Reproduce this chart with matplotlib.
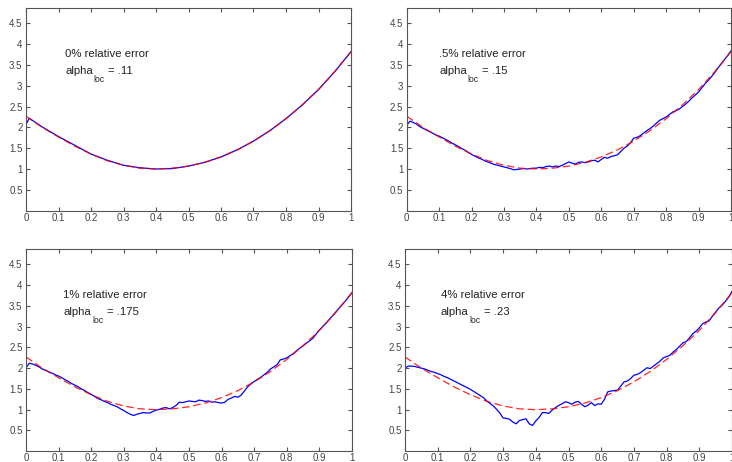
import matplotlib
matplotlib.use("Agg")
import matplotlib.pyplot as plt

plt.rcParams['font.family'] = ['Liberation Sans', 'DejaVu Sans']

# true function (red dashed), sampled every 0.05
x_true = [0.00, 0.05, 0.10, 0.15, 0.20, 0.25, 0.30, 0.35, 0.40, 0.45, 0.50,
          0.55, 0.60, 0.65, 0.70, 0.75, 0.80, 0.85, 0.90, 0.95, 1.00]
y_true = [2.27, 2.00, 1.77, 1.55, 1.36, 1.20, 1.09, 1.02, 1.00, 1.02, 1.07,
          1.16, 1.29, 1.46, 1.67, 1.92, 2.21, 2.54, 2.91, 3.34, 3.82]

# recovered curves (blue)
x_rec0 = [0.00, 0.01, 0.05, 0.10, 0.15, 0.20, 0.25, 0.30, 0.35, 0.40, 0.45,
          0.50, 0.55, 0.60, 0.65, 0.70, 0.75, 0.80, 0.85, 0.90, 0.95, 1.00]
y_rec0 = [2.07, 2.22, 2.01, 1.78, 1.57, 1.36, 1.21, 1.09, 1.03, 1.00, 1.01,
          1.07, 1.16, 1.29, 1.46, 1.67, 1.92, 2.21, 2.54, 2.91, 3.34, 3.82]

x_rec = [i / 100 for i in range(101)]

y_rec05 = [2.05, 2.15, 2.12, 2.08, 2.02, 1.98, 1.94, 1.90, 1.86, 1.82,
           1.79, 1.75, 1.71, 1.67, 1.62, 1.58, 1.54, 1.49, 1.45, 1.40,
           1.35, 1.31, 1.27, 1.24, 1.20, 1.17, 1.14, 1.11, 1.09, 1.07,
           1.05, 1.03, 1.01, 0.98, 0.99, 1.00, 1.01, 1.00, 1.01, 1.02,
           1.02, 1.04, 1.03, 1.06, 1.07, 1.05, 1.07, 1.06, 1.09, 1.13,
           1.17, 1.14, 1.12, 1.16, 1.17, 1.15, 1.17, 1.20, 1.21, 1.17,
           1.23, 1.28, 1.26, 1.30, 1.32, 1.34, 1.42, 1.50, 1.55, 1.63,
           1.74, 1.76, 1.80, 1.86, 1.92, 1.97, 2.03, 2.10, 2.17, 2.21,
           2.25, 2.31, 2.37, 2.40, 2.44, 2.50, 2.56, 2.63, 2.71, 2.78,
           2.85, 2.95, 3.05, 3.13, 3.22, 3.32, 3.43, 3.53, 3.63, 3.73,
           3.84]

y_rec1 = [2.01, 2.12, 2.10, 2.07, 2.03, 1.98, 1.95, 1.91, 1.88, 1.84,
          1.81, 1.77, 1.72, 1.68, 1.63, 1.59, 1.55, 1.50, 1.46, 1.41,
          1.37, 1.32, 1.27, 1.24, 1.20, 1.17, 1.13, 1.10, 1.07, 1.02,
          0.98, 0.93, 0.89, 0.86, 0.89, 0.91, 0.93, 0.92, 0.92, 0.96,
          0.99, 1.01, 1.04, 1.05, 1.02, 1.05, 1.10, 1.18, 1.17, 1.19,
          1.21, 1.20, 1.19, 1.23, 1.22, 1.20, 1.21, 1.18, 1.19, 1.17,
          1.16, 1.18, 1.25, 1.28, 1.32, 1.30, 1.35, 1.45, 1.55, 1.62,
          1.68, 1.73, 1.78, 1.84, 1.90, 1.98, 2.03, 2.08, 2.20, 2.22,
          2.25, 2.30, 2.35, 2.42, 2.48, 2.54, 2.60, 2.66, 2.72, 2.82,
          2.92, 3.00, 3.08, 3.17, 3.26, 3.35, 3.44, 3.53, 3.62, 3.72,
          3.82]

y_rec4 = [2.00, 2.05, 2.05, 2.04, 2.02, 2.00, 1.98, 1.95, 1.92, 1.90,
          1.87, 1.84, 1.80, 1.77, 1.73, 1.69, 1.65, 1.61, 1.57, 1.53,
          1.49, 1.44, 1.39, 1.34, 1.29, 1.21, 1.15, 1.09, 1.01, 0.92,
          0.80, 0.79, 0.77, 0.70, 0.66, 0.74, 0.76, 0.78, 0.66, 0.62,
          0.73, 0.81, 0.93, 0.93, 0.91, 0.99, 1.05, 1.10, 1.14, 1.19,
          1.17, 1.13, 1.18, 1.20, 1.13, 1.07, 1.11, 1.17, 1.10, 1.14,
          1.13, 1.25, 1.43, 1.45, 1.46, 1.47, 1.57, 1.67, 1.69, 1.75,
          1.83, 1.85, 1.89, 1.95, 2.01, 1.99, 2.05, 2.11, 2.17, 2.25,
          2.28, 2.31, 2.39, 2.45, 2.53, 2.61, 2.64, 2.73, 2.83, 2.89,
          2.97, 3.07, 3.11, 3.14, 3.25, 3.35, 3.45, 3.52, 3.61, 3.71,
          3.85]

panels = [
    (x_rec0, y_rec0, "0% relative error", ".11"),
    (x_rec, y_rec05, ".5% relative error", ".15"),
    (x_rec, y_rec1, "1% relative error", ".175"),
    (x_rec, y_rec4, "4% relative error", ".23"),
]
text_x = [0.12, 0.10, 0.115, 0.11]

# axes rectangles in pixels: left, bottom(from top), right, top
W, H = 732, 462
boxes = [(26, 210.6, 351, 8), (406.7, 210.6, 731, 8),
         (26, 451.2, 352, 249), (405, 451.2, 732, 249)]

fig = plt.figure(figsize=(W / 100, H / 100), dpi=100)
renderer = fig.canvas.get_renderer()
axc = "#555555"
txtc = "#222222"
for (xb, yb, title, alpha), (l, b, r, t), tx in zip(panels, boxes, text_x):
    ax = fig.add_axes([l / W, (H - b) / H, (r - l) / W, (b - t) / H])
    ax.plot(xb, yb, color="blue", lw=0.9)
    ax.plot(x_true, y_true, color="red", lw=0.9, dashes=(6, 3), alpha=0.85)
    ax.set_xlim(0, 1)
    ax.set_ylim(0, 4.87)
    ax.set_xticks([i / 10 for i in range(11)])
    ax.set_xticklabels(["0"] + ["0.%d" % i for i in range(1, 10)] + ["1"])
    ax.set_yticks([0.5, 1, 1.5, 2, 2.5, 3, 3.5, 4, 4.5])
    ax.set_yticklabels(["0.5", "1", "1.5", "2", "2.5", "3", "3.5", "4", "4.5"])
    ax.tick_params(direction="in", length=3, width=0.8, top=True, right=True,
                   labelsize=7, colors=axc, labelcolor="#444444")
    ax.tick_params(axis="x", pad=1.5)
    ax.tick_params(axis="y", pad=2.5)
    for s in ax.spines.values():
        s.set_color(axc)
        s.set_linewidth(0.8)
    ax.text(tx, 3.76, title, fontsize=8.2, color=txtc, va="center")

    # alpha_loc label: base text, lowered subscript, then the value
    t1 = ax.text(tx, 3.36, "alpha", fontsize=8.2, color=txtc, va="center")
    w1 = t1.get_window_extent(renderer).width * 72 / fig.dpi
    t2 = ax.annotate("loc", (tx, 3.36), xytext=(w1 + 0.5, -6),
                     textcoords="offset points", fontsize=6.2, color=txtc,
                     va="center")
    w2 = t2.get_window_extent(renderer).width * 72 / fig.dpi
    ax.annotate("= " + alpha, (tx, 3.36), xytext=(w1 + w2 + 3, 0),
                textcoords="offset points", fontsize=8.2, color=txtc,
                va="center")

fig.savefig("out.png", dpi=100)
